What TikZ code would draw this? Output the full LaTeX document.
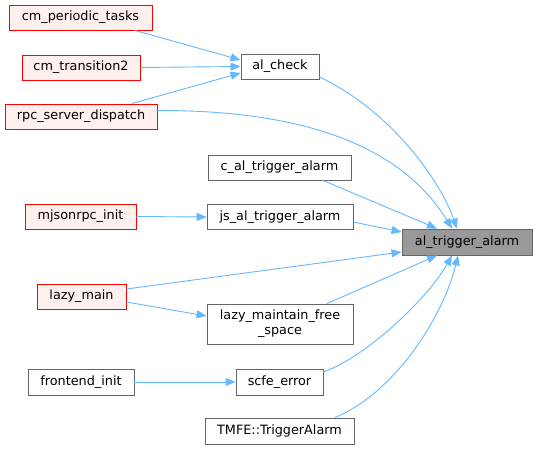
\documentclass[tikz,border=0pt]{standalone}
\usepackage{fontspec}
\setmainfont{DejaVu Sans}
\usetikzlibrary{arrows.meta}
\definecolor{edgeblue}{HTML}{63B8FF}
\definecolor{redfill}{HTML}{FFF0F0}
\definecolor{greyline}{HTML}{666666}
\definecolor{hlfill}{HTML}{999999}
\tikzset{
  box/.style={draw=greyline, fill=white, line width=0.9pt, inner sep=0pt, align=center,
    font=\fontsize{12.8}{15}\selectfont},
  redbox/.style={box, draw=red, fill=redfill},
  hlbox/.style={box, fill=hlfill},
  edge/.style={draw=edgeblue, line width=0.9pt, -{Triangle[length=10pt,width=8pt]}},
}
\begin{document}
\begin{tikzpicture}[x=1pt,y=-1pt]
\useasboundingbox (0,0) rectangle (537,449);
% nodes
\node[redbox, minimum width=143pt, minimum height=25pt] (cmp) at (80.5,17.5) {cm\_periodic\_tasks};
\node[redbox, minimum width=118pt, minimum height=25pt] (cmt) at (81,67.5) {cm\_transition2};
\node[redbox, minimum width=152pt, minimum height=25pt] (rpc) at (81,116.5) {rpc\_server\_dispatch};
\node[box, minimum width=78pt, minimum height=25pt] (alcheck) at (280,66.5) {al\_check};
\node[box, minimum width=143pt, minimum height=25pt] (cal) at (279.5,167.5) {c\_al\_trigger\_alarm};
\node[redbox, minimum width=111pt, minimum height=25pt] (mj) at (80.5,216.5) {mjsonrpc\_init};
\node[box, minimum width=146pt, minimum height=25pt] (js) at (280,217) {js\_al\_trigger\_alarm};
\node[hlbox, minimum width=130pt, minimum height=26pt] (ata) at (467,242) {al\_trigger\_alarm};
\node[redbox, minimum width=89pt, minimum height=25pt] (lm) at (81.5,296.5) {lazy\_main};
\node[box, minimum width=146pt, minimum height=40pt] (lmf) at (280,324) {lazy\_maintain\_free\\\_space};
\node[box, minimum width=106pt, minimum height=26pt] (fi) at (81,382) {frontend\_init};
\node[box, minimum width=87pt, minimum height=26pt] (scfe) at (279.5,382) {scfe\_error};
\node[box, minimum width=149pt, minimum height=26pt] (tmfe) at (279.5,431) {TMFE::TriggerAlarm};
% edges to al_check
\draw[edge] ([xshift=54.5pt]cmp.south) -- ([yshift=6.5pt]alcheck.west);
\draw[edge] (cmt.east) -- (alcheck.west);
\draw[edge] ([xshift=51pt]rpc.north) -- ([yshift=-6.5pt]alcheck.west);
% edges to al_trigger_alarm
\draw[edge] ([yshift=-10.5pt]alcheck.east) .. controls (390,110) and (440,180) .. ([xshift=-10pt]ata.north);
\draw[edge] ([yshift=6pt]rpc.east) .. controls (330,110) and (410,160) .. ([xshift=-15pt]ata.north);
\draw[edge] ([xshift=43.5pt]cal.south) -- ([xshift=-30pt]ata.north);
\draw[edge] (mj.east) -- (js.west);
\draw[edge] ([yshift=-5pt]js.east) -- ([yshift=10pt]ata.west);
\draw[edge] ([yshift=7.5pt]lm.east) -- ([yshift=-10pt]ata.west);
\draw[edge] ([yshift=-5.5pt]lm.east) -- ([yshift=8pt]lmf.west);
\draw[edge] ([xshift=47pt]lmf.north) -- ([xshift=-30pt]ata.south);
\draw[edge] (fi.east) -- (scfe.west);
\draw[edge] ([yshift=10pt]scfe.east) .. controls (370,355) and (430,295) .. ([xshift=-15pt]ata.south);
\draw[edge] ([xshift=55.5pt]tmfe.north) .. controls (400,390) and (445,310) .. ([xshift=-9pt]ata.south);
\end{tikzpicture}
\end{document}
